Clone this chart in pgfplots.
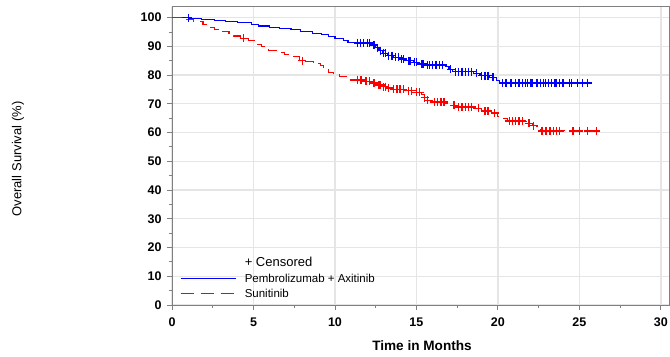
\documentclass[border=0pt]{standalone}
\usepackage{fontspec}
\setmainfont{Liberation Sans}
\usepackage{pgfplots}
\pgfplotsset{compat=1.18}
\definecolor{kmblue}{RGB}{0,0,255}
\definecolor{kmred}{RGB}{255,0,0}
\begin{document}
\begin{tikzpicture}
\path[use as bounding box] (0,0) rectangle (670bp,357bp);
\begin{axis}[
  at={(172bp,52bp)}, anchor=south west,
  width=497bp, height=298bp, scale only axis,
  xmin=0, xmax=30.5, ymin=0, ymax=103.7,
  xtick={0,5,...,30}, ytick={0,10,...,100},
  minor x tick num=1, minor y tick num=1,
  tick align=outside, xtick pos=left, ytick pos=left,
  major tick length=5bp, minor tick length=3bp,
  axis line style={black!50, line width=1bp},
  every tick/.style={black!50, line width=0.9bp},
  grid=major, major grid style={black!10, line width=1.3bp},
  /pgf/number format/assume math mode=true,
  tick label style={font=\bfseries\fontsize{12.5bp}{15bp}\selectfont},
  xticklabel style={yshift=-4bp},
  yticklabel style={xshift=-2bp},
  xlabel={Time in Months},
  ylabel={Overall Survival (\%)},
  xlabel style={at={(axis description cs:0.503,-0.137)}, anchor=center, font=\bfseries\fontsize{13.6bp}{16bp}\selectfont},
  ylabel style={at={(axis description cs:-0.31,0.49)}, anchor=center, font=\fontsize{13bp}{15bp}\selectfont},
  legend style={at={(axis description cs:0.0,0.17)}, anchor=north west, xshift=5bp, draw=none, fill=none,
    font=\fontsize{11.5bp}{13bp}\selectfont, row sep=3.3bp, column sep=6.5bp,
    nodes={inner xsep=2bp, inner ysep=1bp}},
  legend cell align=left,
]
\addlegendimage{empty legend}
\addlegendentry{\fontsize{13bp}{15bp}\selectfont + Censored}
% Pembrolizumab + Axitinib
\addplot[kmblue, line width=1.1bp, const plot,
  legend image code/.code={\draw[kmblue, line width=1.1bp] (0bp,0bp) -- (55bp,0bp);}] coordinates {
(0,100) (1.1,99.8) (1.8,99.4) (2.6,99.0) (3.3,98.7) (4.0,98.3) (4.9,97.6) (5.3,97.1)
(6.0,96.6) (6.6,96.2) (7.3,95.8) (7.9,95.2) (8.6,94.6) (9.2,94.0) (9.6,93.3) (10.0,92.7)
(10.5,92.0) (10.8,91.2) (12.3,90.5) (12.5,89.6) (12.7,88.5) (12.9,87.6) (13.2,86.8)
(13.6,86.2) (14.0,85.6) (14.4,85.0) (14.8,84.4) (15.2,83.9) (15.6,83.5) (16.8,82.9)
(17.0,82.0) (17.2,81.2) (18.5,80.6) (18.9,79.8) (19.5,79.2) (19.9,78.2) (20.1,77.2) (25.8,77.2)
};
\addlegendentry{Pembrolizumab + Axitinib}
% Sunitinib
\addplot[kmred, line width=1.1bp, const plot, dash pattern=on 10bp off 6bp,
  legend image code/.code={\draw[kmred, line width=1.1bp, dash pattern=on 13bp off 7bp] (0bp,0bp) -- (53bp,0bp);}] coordinates {
(0,100) (0.8,99.3) (1.3,98.6) (1.9,97.5) (2.2,96.6) (2.6,96.0) (3.0,95.3) (3.5,94.4)
(3.8,93.6) (4.2,92.8) (4.7,92.0) (5.1,90.6) (5.5,89.9) (5.9,88.7) (6.4,87.9) (6.9,87.2)
(7.3,86.4) (7.8,85.0) (8.2,84.7) (8.7,84.0) (9.1,83.3) (9.3,82.0) (9.6,81.0) (9.9,80.2)
(10.3,79.4) (10.9,78.3) (11.8,77.8) (12.3,77.2) (12.6,76.6) (12.9,76.0) (13.2,75.5)
(13.5,75.0) (14.3,74.6) (14.9,74.0) (15.3,73.2) (15.5,72.2) (15.7,71.2) (16.0,70.6)
(16.8,70.2) (17.0,69.5) (17.5,68.9) (18.5,68.4) (19.0,67.5) (19.6,66.8) (20.0,65.6)
(20.3,64.8) (20.6,64.0) (21.8,63.2) (22.1,62.4) (22.4,61.4) (22.6,60.6) (26.4,60.6)
};
\addlegendentry{Sunitinib}
% censored marks
\addplot[kmblue, only marks, mark=+, mark size=4bp, line width=1.3bp, mark options={kmblue, solid}, forget plot] coordinates {
(1.0,100) (11.4,91.2) (11.55,91.2) (11.75,91.2) (12.0,91.2) (12.1,91.2)
(12.4,90.5) (12.6,89.6) (12.8,88.5) (13.0,87.6) (13.1,87.6) (13.3,86.8) (13.5,86.8)
(13.7,86.2) (13.9,86.2) (14.1,85.6) (14.2,85.6) (14.5,85.0) (14.6,85.0) (14.9,84.4)
(15.0,84.4) (15.3,83.9) (15.4,83.9) (15.7,83.5) (15.8,83.5) (16.0,83.5) (16.2,83.5)
(16.4,83.5) (16.6,83.5) (17.1,82.0) (17.4,81.2) (17.6,81.2) (17.8,81.2) (18.0,81.2)
(18.2,81.2) (18.4,81.2) (18.7,80.6) (19.0,79.8) (19.2,79.8) (19.4,79.8) (19.7,79.2)
(20.3,77.2) (20.5,77.2) (20.8,77.2) (21.1,77.2) (21.3,77.2) (21.5,77.2) (21.7,77.2)
(21.8,77.2) (22.0,77.2) (22.1,77.2) (22.4,77.2) (22.6,77.2) (22.8,77.2) (22.9,77.2)
(23.1,77.2) (23.3,77.2) (23.5,77.2) (23.6,77.2) (23.8,77.2) (24.0,77.2) (24.4,77.2)
(24.5,77.2) (24.9,77.2) (25.2,77.2) (25.5,77.2)
};
\addplot[kmred, only marks, mark=+, mark size=4bp, line width=1.3bp, mark options={kmred, solid}, forget plot] coordinates {
(4.4,92.8) (8.0,85.0) (11.4,78.3) (11.6,78.3) (11.9,77.8) (12.1,77.8) (12.4,77.2)
(12.7,76.6) (12.8,76.6) (13.0,76.0) (13.1,76.0) (13.3,75.5) (13.6,75.0) (13.8,75.0)
(14.0,75.0) (14.2,75.0) (14.5,74.6) (14.7,74.6) (15.0,74.0) (15.2,74.0) (15.5,72.2)
(15.7,71.2) (16.1,70.6) (16.3,70.6) (16.5,70.6) (16.7,70.6) (17.3,69.5) (17.6,68.9)
(17.8,68.9) (18.0,68.9) (18.2,68.9) (18.4,68.9) (18.8,68.4) (19.2,67.5) (19.4,67.5)
(19.8,66.8) (20.7,64.0) (20.9,64.0) (21.1,64.0) (21.3,64.0) (21.5,64.0) (21.9,63.2)
(22.2,62.4) (22.7,60.6) (22.9,60.6) (23.0,60.6) (23.2,60.6) (23.4,60.6) (23.6,60.6)
(23.8,60.6) (24.6,60.6) (25.0,60.6) (25.5,60.6) (26.05,60.6)
};
\end{axis}
\end{tikzpicture}
\end{document}
